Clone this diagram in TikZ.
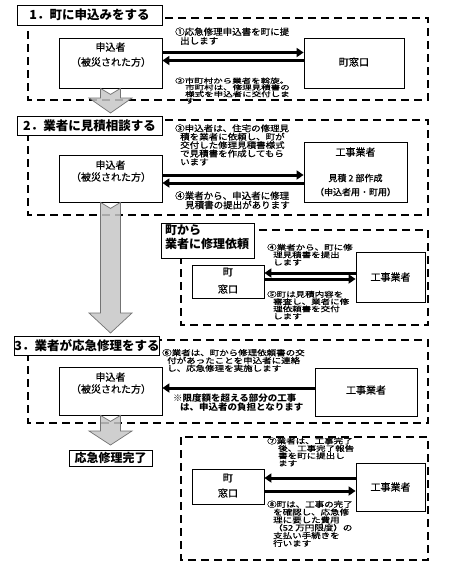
\documentclass[tikz,border=0pt]{standalone}
\usepackage{graphicx}
\usepackage{fontspec}
\setmainfont{Noto Sans CJK JP}
\newfontfamily\annfont[FakeBold=0.5]{Noto Sans CJK JP}
\usetikzlibrary{arrows.meta}
\newcommand{\rbox}[6]{\node[#2, minimum width={#5-#3}, minimum height={#6-#4}] (#1) at ({(#3+#5)/2},{(#4+#6)/2}) {};}
\newcommand{\annot}[7]{%
  \pgfmathsetmacro{\ys}{min(1,#5/9.6)}%
  \foreach \txt [count=\ii from 0] in {#7} {%
    \pgfmathsetmacro{\xx}{#3+(\ii>0)*#6}%
    \pgfmathsetmacro{\yy}{#4+\ii*#5+3.6*\ys}%
    \node[ann,#2] (#1-\ii) at (\xx,\yy) {\scalebox{1}[\ys]{\txt}};
  }}
\begin{document}
\begin{tikzpicture}[x=1pt,y=-1pt,
  box/.style={draw=black, line width=0.8pt, fill=white, inner sep=0pt},
  ttl/.style={draw=black, line width=0.8pt, fill=white, inner sep=0pt, font=\fontsize{12.5}{14}\selectfont\bfseries},
  ttlt/.style={inner sep=0pt, anchor=west, font=\fontsize{12}{14}\selectfont\bfseries},
  dbox/.style={draw=black, line width=1.3pt, dash pattern=on 8pt off 5pt},
  lbl/.style={inner sep=0pt, font=\annfont\fontsize{10}{12}\selectfont},
  slbl/.style={inner sep=0pt, font=\annfont\fontsize{9}{11}\selectfont},
  ann/.style={inner sep=0pt, font=\annfont\fontsize{9.5}{11}\selectfont, anchor=base west},
  arr/.style={line width=3pt, -{Triangle[length=7pt,width=9pt]}},
  big/.style={fill=black!22, draw=black!55, line width=0.7pt, fill opacity=0.85}
]
\useasboundingbox[fill=white] (0,0) rectangle (452,566);

% dashed frames
\draw[dbox] (28,18) rectangle (428,100);
\draw[dbox] (28,120) rectangle (428,215);
\draw[dbox] (181,230) rectangle (428,325);
\draw[dbox] (28,340) rectangle (428,423);
\draw[dbox] (181,437) rectangle (428,560);

% ---- section 1
\node[ttl, minimum width=145, minimum height=20] (t1) at (89.5,15) {1．町に申込みをする};
\rbox{a1}{box}{59}{38}{162}{88}
\node[lbl] (a1t) at (110.5,47) {申込者};
\node[lbl] (a1s) at (111,62) {（被災された方）};
\rbox{m1}{box}{304}{38}{404}{88}
\node[lbl] (m1t) at (354,62) {町窓口};
\draw[arr] (a1.east |- 0,52.5) -- (m1.west |- 0,52.5);
\draw[arr] (m1.west |- 0,60.5) -- (a1.east |- 0,60.5);
\annot{n1}{}{175}{31.7}{9}{5}{①応急修理申込書を町に提,出します}
\annot{n2}{}{175}{80.7}{6.7}{10}{②市町村から業者を斡旋。,市町村は、修理見積書の,様式を申込者に交付しま,す}

% ---- section 2
\node[ttl, minimum width=145, minimum height=19] (t2) at (89.5,125.5) {2．業者に見積相談する};
\rbox{a2}{box}{59}{155}{162}{202}
\node[lbl] (a2t) at (110.5,165) {申込者};
\node[lbl] (a2s) at (111,177) {（被災された方）};
\rbox{k2}{box}{304}{142}{407}{202}
\node[lbl] (k2t) at (355.5,152) {工事業者};
\node[slbl] (k2s) at (355.5,178) {見積 2 部作成};
\node[slbl] (k2u) at (355.5,192) {（申込者用・町用）};
\draw[arr] (a2.east |- 0,175) -- (k2.west |- 0,175);
\draw[arr] (k2.west |- 0,183) -- (a2.east |- 0,183);
\annot{n3}{}{175}{128.3}{8.4}{5}{③申込者は、住宅の修理見,積を業者に依頼し、町が,交付した修理見積書様式,で見積書を作成してもら,います}
\annot{n4}{}{175}{195.7}{9.3}{10}{④業者から、申込者に修理,見積書の提出があります}

% ---- section town -> contractor
\rbox{t4}{box}{161}{223}{254}{258}
\node[ttlt] (t4a) at (165,230.5) {町から};
\node[ttlt] (t4b) at (165,243.5) {業者に修理依頼};
\rbox{m4}{box}{192}{265}{264}{298}
\node[lbl] (m4t) at (228,272) {町};
\node[lbl] (m4s) at (228,289) {窓口};
\rbox{k4}{box}{356}{252}{425}{302}
\node[lbl] (k4t) at (390.5,277) {工事業者};
\draw[arr] (k4.west |- 0,273) -- (m4.east |- 0,273);
\draw[arr] (m4.east |- 0,279) -- (k4.west |- 0,279);
\annot{n4b}{}{267}{247.3}{7.5}{6}{④業者から、町に修,理見積書を提出,します}
\annot{n5}{}{267}{294.3}{7.3}{6}{⑤町は見積内容を,審査し、業者に修,理依頼書を交付,します}

% ---- section 3
\node[ttl, minimum width=140, minimum height=19] (t3) at (87,345.5) {3．業者が応急修理をする};
\rbox{a3}{box}{59}{367}{162}{415}
\node[lbl] (a3t) at (110.5,377) {申込者};
\node[lbl] (a3s) at (111,389) {（被災された方）};
\rbox{k3}{box}{315}{368}{417}{416}
\node[lbl] (k3t) at (366,390) {工事業者};
\draw[arr] (k3.west |- 0,388) -- (a3.east |- 0,388);
\annot{n6}{}{162}{352.7}{7.8}{5}{⑥業者は、町から修理依頼書の交,付があったことを申込者に連絡,し、応急修理を実施します}
\annot{n7}{font=\fontsize{9.5}{11}\selectfont\bfseries}{173}{397.7}{9}{7}{※限度額を超える部分の工事,は、申込者の負担となります}

% ---- done
\node[ttl, font=\fontsize{12}{14}\selectfont\bfseries, minimum width=83, minimum height=16] (done) at (110.5,458) {応急修理完了};

% ---- bottom section
\rbox{m5}{box}{192}{469}{264}{504}
\node[lbl] (m5t) at (228,478) {町};
\node[lbl] (m5s) at (228,493) {窓口};
\rbox{k5}{box}{356}{463}{425}{511}
\node[lbl] (k5t) at (390.5,487) {工事業者};
\draw[arr] (k5.west |- 0,478) -- (m5.east |- 0,478);
\draw[arr] (m5.east |- 0,491) -- (k5.west |- 0,491);
\annot{n8}{}{267}{441}{7.4}{11}{⑦業者は、工事完了,後、工事完了報告,書を町に提出し,ます}
\annot{n9}{}{267}{504.3}{7.8}{6}{⑧町は、工事の完了,を確認し、応急修,理に要した費用,（52 万円限度）の,支払い手続きを,行います}

% ---- big grey arrows
\draw[big] ([xshift=-10pt]a1.south) -- ([yshift=-6pt]a1.south) -- ([xshift=10pt]a1.south) -- (120.5,98) -- (132,98) -- (110.5,113) -- (89,98) -- (100.5,98) -- cycle;
\draw[big] ([xshift=-10pt]a2.south) -- ([yshift=-6pt]a2.south) -- ([xshift=10pt]a2.south) -- (120.5,313) -- (132,313) -- (110.5,333) -- (89,313) -- (100.5,313) -- cycle;
\draw[big] ([xshift=-10pt]a3.south) -- ([yshift=-6pt]a3.south) -- ([xshift=10pt]a3.south) -- (120.5,431) -- (132,431) -- (110.5,445) -- (89,431) -- (100.5,431) -- cycle;
\end{tikzpicture}
\end{document}
